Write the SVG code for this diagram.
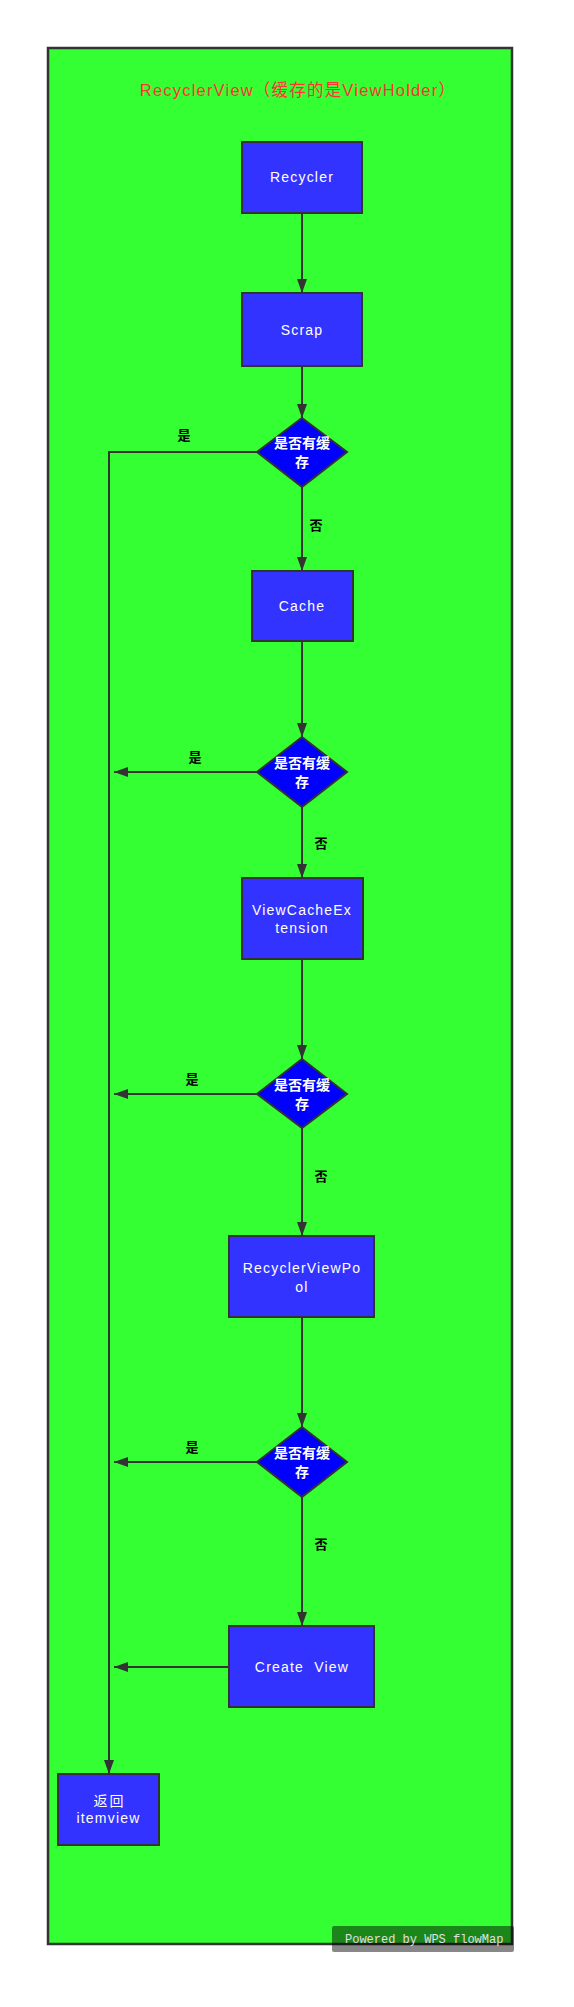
<svg xmlns="http://www.w3.org/2000/svg" width="574" height="2007" viewBox="0 0 574 2007">
<style>
.box{fill:#3333ff;stroke:#333;stroke-width:2}
.dia{fill:#0000ff;stroke:#333;stroke-width:2}
.t{font-family:"Liberation Sans","Noto Sans CJK SC",sans-serif;font-size:14px;fill:#fff;text-anchor:middle;letter-spacing:1.2px}
.dt{font-family:"Noto Sans CJK SC",sans-serif;font-size:14px;font-weight:bold;fill:#fff;text-anchor:middle}
.rt{font-family:"Noto Sans CJK SC",sans-serif;font-size:14px;fill:#fff;text-anchor:middle;letter-spacing:2px}
.lb{font-family:"Noto Sans CJK SC",sans-serif;font-size:13px;font-weight:bold;fill:#000;text-anchor:middle}
.ln{fill:none;stroke:#333;stroke-width:2}
</style>
<defs>
<marker id="ah" viewBox="0 0 14 10" refX="14" refY="5" markerWidth="14" markerHeight="10" markerUnits="userSpaceOnUse" orient="auto">
<path d="M0,0 L14,5 L0,10 Z" fill="#333"/>
</marker>
</defs>
<rect width="574" height="2007" fill="#fff"/>
<g id="frame">
<rect x="48" y="48" width="464" height="1896" fill="#33ff33" stroke="#333" stroke-width="2.5"/>
<text x="298" y="96" font-family="Liberation Sans,'Noto Sans CJK SC',sans-serif" font-size="16.5" fill="#ff3333" text-anchor="middle" letter-spacing="1.2">RecyclerView（缓存的是ViewHolder）</text>
</g>
<g id="connectors">
<path class="ln" d="M302,213 V293" marker-end="url(#ah)"/>
<path class="ln" d="M302,366 V418" marker-end="url(#ah)"/>
<path class="ln" d="M302,487 V571" marker-end="url(#ah)"/>
<path class="ln" d="M302,641 V737" marker-end="url(#ah)"/>
<path class="ln" d="M302,807 V878" marker-end="url(#ah)"/>
<path class="ln" d="M302,959 V1059" marker-end="url(#ah)"/>
<path class="ln" d="M302,1128 V1236" marker-end="url(#ah)"/>
<path class="ln" d="M302,1317 V1427" marker-end="url(#ah)"/>
<path class="ln" d="M302,1497 V1626" marker-end="url(#ah)"/>
<path class="ln" d="M257,452 H109 V1774" marker-end="url(#ah)"/>
<path class="ln" d="M257,772 H114" marker-end="url(#ah)"/>
<path class="ln" d="M257,1094 H114" marker-end="url(#ah)"/>
<path class="ln" d="M257,1462 H114" marker-end="url(#ah)"/>
<path class="ln" d="M229,1667 H114" marker-end="url(#ah)"/>
<text class="lb" x="184" y="440">是</text>
<text class="lb" x="316" y="530">否</text>
<text class="lb" x="195" y="762">是</text>
<text class="lb" x="321" y="848">否</text>
<text class="lb" x="192" y="1084">是</text>
<text class="lb" x="321" y="1181">否</text>
<text class="lb" x="192" y="1452">是</text>
<text class="lb" x="321" y="1549">否</text>
</g>
<g id="recycler">
<rect class="box" x="242" y="142" width="120" height="71"/>
<text class="t" x="302" y="182">Recycler</text>
</g>
<g id="scrap">
<rect class="box" x="242" y="293" width="120" height="73"/>
<text class="t" x="302" y="335">Scrap</text>
</g>
<g id="check1">
<polygon class="dia" points="302,418 347,452 302,487 257,452"/>
<text class="dt" x="302" y="448">是否有缓</text>
<text class="dt" x="302" y="467">存</text>
</g>
<g id="cache">
<rect class="box" x="252" y="571" width="101" height="70"/>
<text class="t" x="302" y="611">Cache</text>
</g>
<g id="check2">
<polygon class="dia" points="302,737 347,772 302,807 257,772"/>
<text class="dt" x="302" y="768">是否有缓</text>
<text class="dt" x="302" y="787">存</text>
</g>
<g id="viewcacheextension">
<rect class="box" x="242" y="878" width="121" height="81"/>
<text class="t" x="302" y="915">ViewCacheEx</text>
<text class="t" x="302" y="933">tension</text>
</g>
<g id="check3">
<polygon class="dia" points="302,1059 347,1094 302,1128 257,1094"/>
<text class="dt" x="302" y="1090">是否有缓</text>
<text class="dt" x="302" y="1109">存</text>
</g>
<g id="recyclerviewpool">
<rect class="box" x="229" y="1236" width="145" height="81"/>
<text class="t" x="302" y="1273">RecyclerViewPo</text>
<text class="t" x="302" y="1292">ol</text>
</g>
<g id="check4">
<polygon class="dia" points="302,1427 347,1462 302,1497 257,1462"/>
<text class="dt" x="302" y="1458">是否有缓</text>
<text class="dt" x="302" y="1477">存</text>
</g>
<g id="createview">
<rect class="box" x="229" y="1626" width="145" height="81"/>
<text class="t" x="302" y="1672" xml:space="preserve">Create  View</text>
</g>
<g id="return">
<rect class="box" x="58" y="1774" width="101" height="71"/>
<text class="rt" x="109.5" y="1806">返回</text>
<text class="t" x="108.5" y="1823">itemview</text>
</g>
<g id="watermark">
<rect x="332" y="1926" width="182" height="26" rx="2" fill="#000" fill-opacity="0.47"/>
<text x="345" y="1943" font-family="Liberation Mono,monospace" font-size="12" fill="#e0e0e0">Powered by WPS flowMap</text>
</g>
</svg>
